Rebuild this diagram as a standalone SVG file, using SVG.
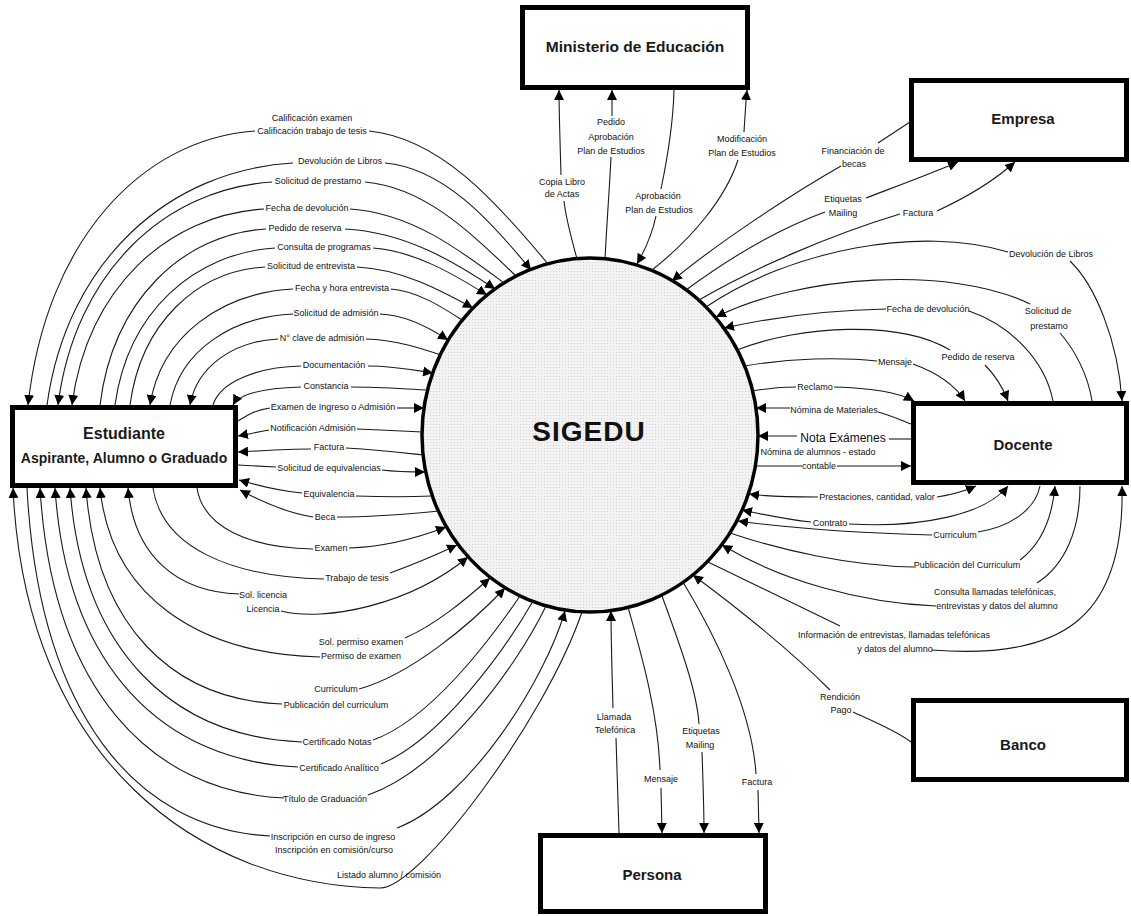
<svg xmlns="http://www.w3.org/2000/svg" width="1131" height="916" viewBox="0 0 1131 916">
<defs>
<marker id="ah" viewBox="0 0 10 10" refX="10" refY="5" markerWidth="10" markerHeight="10" markerUnits="userSpaceOnUse" orient="auto"><path d="M0,0 L10,5 L0,10 z" fill="#000"/></marker>
<pattern id="dots" width="3" height="3" patternUnits="userSpaceOnUse"><rect width="3" height="3" fill="#f3f3f3"/><rect x="1" y="1" width="1" height="1" fill="#d2d2d2"/></pattern>
<style>
.ln{fill:none;stroke:#1a1a1a;stroke-width:1.1}
.ar{marker-end:url(#ah)}
.t{font-family:"Liberation Sans",Arial,sans-serif;font-size:9px;fill:#111;text-anchor:middle}
.tb{font-family:"Liberation Sans",Arial,sans-serif;font-size:12px;fill:#111;text-anchor:middle}
.box{fill:#fff;stroke:#000;stroke-width:5}
.nt{font-family:"Liberation Sans",Arial,sans-serif;font-weight:bold;font-size:15px;fill:#1a1a1a;text-anchor:middle}
.nt.big{font-size:16px}
.nt.sub{font-size:14px}
.nt.min{font-size:15.5px}
</style>
</defs>
<rect width="1131" height="916" fill="#fff"/>

<!-- central process -->
<g id="sigedu">
<ellipse cx="590" cy="435" rx="168" ry="177" fill="url(#dots)" stroke="#000" stroke-width="3.5"/>
<text x="589" y="441" font-family="Liberation Sans,Arial,sans-serif" font-weight="bold" font-size="28" letter-spacing="1" text-anchor="middle" fill="#111">SIGEDU</text>
</g>

<g id="connectors">
<!-- Estudiante: upper arcs -->
<path class="ln ar" d="M255,131 C141,139 46,241 28,405"/>
<path class="ln" d="M369,131 C439,138 495,200 548,264"/>
<path class="ln" d="M293,163 C170,170 67,260 47,405"/>
<path class="ln ar" d="M385,163 C443,168 490,220 531,270"/>
<path class="ln ar" d="M272,182 C165,189 75,272 58,405"/>
<path class="ln" d="M365,182 C425,187 472,234 516,276"/>
<path class="ln ar" d="M264,209 C168,215 87,288 72,405"/>
<path class="ln" d="M350,209 C411,213 460,250 504,283"/>
<path class="ln" d="M266,229 C183,234 113,300 100,405"/>
<path class="ln ar" d="M345,229 C405,232 455,262 495,289"/>
<path class="ln" d="M275,248 C195,253 128,311 115,405"/>
<path class="ln ar" d="M373,248 C415,251 455,275 487,295"/>
<path class="ln" d="M265,267 C197,271 141,323 130,405"/>
<path class="ln ar" d="M357,267 C401,269 440,290 473,308"/>
<path class="ln ar" d="M293,289 C221,293 161,336 150,405"/>
<path class="ln" d="M391,289 C417,291 442,307 462,320"/>
<path class="ln" d="M293,314 C231,317 180,351 170,405"/>
<path class="ln ar" d="M380,314 C407,315 430,328 448,340"/>
<path class="ln ar" d="M278,339 C234,341 197,366 190,405"/>
<path class="ln" d="M366,339 C396,340 420,348 441,355"/>
<path class="ln" d="M301,366 C257,367 220,382 213,405"/>
<path class="ln ar" d="M368,366 C394,366 414,370 433,373"/>
<path class="ln ar" d="M301,387 C268,388 240,392 233,405"/>
<path class="ln" d="M351,387 C380,387 405,389 428,390"/>
<!-- Estudiante: side flows -->
<path class="ln" d="M270,408 C255,410 246,416 238,421"/>
<path class="ln ar" d="M397,408 L424,408"/>
<path class="ln ar" d="M269,430 C258,432 248,434 238,436"/>
<path class="ln" d="M357,429 C385,430 405,431 422,432"/>
<path class="ln ar" d="M311,449 C285,449 260,451 238,452"/>
<path class="ln" d="M346,448 C380,450 405,453 423,455"/>
<path class="ln" d="M238,465 L276,467"/>
<path class="ln ar" d="M382,470 C398,472 410,472 425,472"/>
<path class="ln ar" d="M302,493 C278,491 256,485 239,480"/>
<path class="ln" d="M356,496 C385,497 410,497 432,496"/>
<path class="ln ar" d="M313,517 C288,513 262,502 240,490"/>
<path class="ln" d="M337,517 C370,517 408,514 439,511"/>
<!-- Estudiante: lower arcs -->
<path class="ln" d="M313,549 C249,548 203,527 197,488"/>
<path class="ln ar" d="M349,548 C385,547 420,537 446,527"/>
<path class="ln" d="M324,579 C230,577 162,547 153,488"/>
<path class="ln ar" d="M390,573 C412,565 436,555 457,545"/>
<path class="ln ar" d="M239,594 C178,592 134,557 128,488"/>
<path class="ln ar" d="M281,611 C325,622 410,605 468,557"/>
<path class="ln ar" d="M320,657 C199,654 111,597 100,488"/>
<path class="ln ar" d="M405,638 C435,625 465,600 490,578"/>
<path class="ln ar" d="M282,704 C174,700 96,628 86,488"/>
<path class="ln ar" d="M359,689 C410,675 470,625 505,588"/>
<path class="ln ar" d="M302,742 C174,737 82,653 70,488"/>
<path class="ln" d="M373,740 C430,720 490,640 520,596"/>
<path class="ln ar" d="M298,767 C164,761 67,669 55,488"/>
<path class="ln" d="M381,764 C440,740 505,650 533,601"/>
<path class="ln ar" d="M284,798 C150,792 52,689 40,488"/>
<path class="ln" d="M368,795 C440,770 515,670 546,606"/>
<path class="ln" d="M270,836 C136,829 39,714 27,488"/>
<path class="ln ar" d="M397,828 C470,800 545,680 565,611"/>
<path class="ln ar" d="M582,612 C545,720 420,888 380,888 C200,886 25,760 13,488"/>

<!-- Ministerio de Educación -->
<path class="ln" d="M577,259 C572,240 566,220 564,201"/>
<path class="ln ar" d="M561,175 C560,140 559,110 559,90"/>
<path class="ln" d="M605,259 C607,220 610,180 611,157"/>
<path class="ln ar" d="M612,116 L612,90"/>
<path class="ln" d="M674,90 C673,130 666,165 661,189"/>
<path class="ln ar" d="M656,216 C652,235 645,250 637,264"/>
<path class="ln" d="M652,270 C690,240 725,200 738,160"/>
<path class="ln ar" d="M744,132 C745,115 746,100 747,90"/>

<!-- Empresa -->
<path class="ln" d="M910,122 L878,143"/>
<path class="ln ar" d="M841,166 C790,195 715,245 672,281"/>
<path class="ln ar" d="M866,198 C900,185 935,172 958,162"/>
<path class="ln" d="M825,212 C770,232 720,265 686,290"/>
<path class="ln ar" d="M937,211 C965,198 995,180 1015,162"/>
<path class="ln" d="M900,214 C830,235 750,270 699,300"/>

<!-- Docente -->
<path class="ln" d="M706,307 C790,250 920,225 1008,252"/>
<path class="ln ar" d="M1070,261 C1095,285 1118,340 1122,401"/>
<path class="ln ar" d="M1030,304 C950,265 800,275 716,317"/>
<path class="ln" d="M1060,333 C1075,350 1088,375 1092,401"/>
<path class="ln ar" d="M886,309 C830,310 770,318 724,328"/>
<path class="ln" d="M969,311 C1010,325 1045,360 1053,401"/>
<path class="ln" d="M737,350 C800,325 900,320 950,350"/>
<path class="ln ar" d="M985,365 C995,375 1003,388 1008,401"/>
<path class="ln" d="M745,366 C790,358 840,357 877,361"/>
<path class="ln ar" d="M913,364 C935,372 955,385 965,401"/>
<path class="ln" d="M752,391 C770,388 785,387 796,387"/>
<path class="ln ar" d="M834,387 C870,388 900,393 914,401"/>
<path class="ln ar" d="M790,408 L756,408"/>
<path class="ln" d="M878,412 C890,415 900,420 911,424"/>
<path class="ln ar" d="M797,436 L758,436"/>
<path class="ln" d="M889,439 L911,439"/>
<path class="ln" d="M757,466 L802,466"/>
<path class="ln ar" d="M837,466 L911,466"/>
<path class="ln ar" d="M818,497 C795,497 770,497 749,494"/>
<path class="ln ar" d="M937,497 C950,495 965,491 976,486"/>
<path class="ln ar" d="M811,522 C790,520 765,515 742,510"/>
<path class="ln ar" d="M849,524 C920,528 985,515 1008,486"/>
<path class="ln ar" d="M932,535 C860,533 790,528 738,521"/>
<path class="ln" d="M978,532 C1010,527 1035,510 1040,486"/>
<path class="ln" d="M914,567 C850,566 780,550 730,533"/>
<path class="ln ar" d="M1020,560 C1040,545 1052,520 1055,486"/>
<path class="ln ar" d="M936,606 C860,603 780,580 722,545"/>
<path class="ln" d="M1037,583 C1065,565 1080,530 1080,486"/>
<path class="ln" d="M840,626 C800,607 750,582 708,562"/>
<path class="ln ar" d="M932,650 C1060,660 1125,620 1122,486"/>

<!-- Banco -->
<path class="ln ar" d="M830,690 C790,650 740,610 693,575"/>
<path class="ln" d="M853,712 C870,720 895,730 911,742"/>

<!-- Persona -->
<path class="ln" d="M619,833 C618,800 617,770 616,738"/>
<path class="ln ar" d="M613,708 C612,670 611,640 611,611"/>
<path class="ln" d="M628,607 C640,650 658,710 660,770"/>
<path class="ln ar" d="M661,788 L662,833"/>
<path class="ln" d="M662,596 C678,640 697,690 699,724"/>
<path class="ln ar" d="M702,752 C703,780 704,810 704,833"/>
<path class="ln" d="M683,582 C715,635 752,710 756,774"/>
<path class="ln ar" d="M758,790 L759,833"/>
</g>

<g id="flow-labels">
<text class="t" x="312" y="121">Calificación examen</text>
<text class="t" x="312" y="134">Calificación  trabajo de tesis</text>
<text class="t" x="340" y="164">Devolución de Libros</text>
<text class="t" x="318" y="184">Solicitud de prestamo</text>
<text class="t" x="307" y="211">Fecha de devolución</text>
<text class="t" x="305" y="231">Pedido de reserva</text>
<text class="t" x="324" y="250">Consulta de programas</text>
<text class="t" x="311" y="269">Solicitud de entrevista</text>
<text class="t" x="342" y="291">Fecha y hora entrevista</text>
<text class="t" x="336" y="316">Solicitud de admisión</text>
<text class="t" x="322" y="341">N° clave de admisión</text>
<text class="t" x="334" y="368">Documentación</text>
<text class="t" x="326" y="389">Constancia</text>
<text class="t" x="333" y="410">Examen de Ingreso o Admisión</text>
<text class="t" x="313" y="431">Notificación Admisión</text>
<text class="t" x="329" y="450">Factura</text>
<text class="t" x="329" y="471">Solicitud de equivalencias</text>
<text class="t" x="329" y="497">Equivalencia</text>
<text class="t" x="325" y="520">Beca</text>
<text class="t" x="331" y="551">Examen</text>
<text class="t" x="357" y="581">Trabajo de tesis</text>
<text class="t" x="263" y="598">Sol. licencia</text>
<text class="t" x="263" y="612">Licencia</text>
<text class="t" x="361" y="645">Sol. permiso examen</text>
<text class="t" x="361" y="659">Permiso de examen</text>
<text class="t" x="336" y="692">Curriculum</text>
<text class="t" x="336" y="708">Publicación del curriculum</text>
<text class="t" x="337" y="745">Certificado Notas</text>
<text class="t" x="339" y="771">Certificado Analítico</text>
<text class="t" x="325" y="802">Título de Graduación</text>
<text class="t" x="333" y="840">Inscripción en curso de ingreso</text>
<text class="t" x="334" y="853">Inscripción en comisión/curso</text>
<text class="t" x="389" y="878">Listado alumno / comisión</text>

<text class="t" x="562" y="185">Copia Libro</text>
<text class="t" x="562" y="197">de Actas</text>
<text class="t" x="611" y="125">Pedido</text>
<text class="t" x="611" y="140">Aprobación</text>
<text class="t" x="611" y="154">Plan de Estudios</text>
<text class="t" x="658" y="199">Aprobación</text>
<text class="t" x="659" y="213">Plan de Estudios</text>
<text class="t" x="742" y="142">Modificación</text>
<text class="t" x="742" y="156">Plan de Estudios</text>

<text class="t" x="853" y="154">Financiación de</text>
<text class="t" x="854" y="167">becas</text>
<text class="t" x="843" y="202">Etiquetas</text>
<text class="t" x="843" y="216">Mailing</text>
<text class="t" x="918" y="216">Factura</text>
<text class="t" x="1051" y="257">Devolución de Libros</text>
<text class="t" x="1048" y="314">Solicitud de</text>
<text class="t" x="1049" y="329">prestamo</text>
<text class="t" x="928" y="312">Fecha de devolución</text>
<text class="t" x="978" y="360">Pedido de reserva</text>
<text class="t" x="895" y="365">Mensaje</text>
<text class="t" x="815" y="390">Reclamo</text>
<text class="t" x="834" y="413">Nómina de Materiales</text>
<text class="tb" x="843" y="442">Nota Exámenes</text>
<text class="t" x="818" y="455">Nómina de alumnos - estado</text>
<text class="t" x="819" y="469">contable</text>
<text class="t" x="877" y="500">Prestaciones, cantidad, valor</text>
<text class="t" x="830" y="526">Contrato</text>
<text class="t" x="955" y="538">Curriculum</text>
<text class="t" x="967" y="568">Publicación del Curriculum</text>
<text class="t" x="995" y="595">Consulta llamadas telefónicas,</text>
<text class="t" x="997" y="609">entrevistas y datos del alumno</text>
<text class="t" x="894" y="638">Información de entrevistas, llamadas telefónicas</text>
<text class="t" x="895" y="652">y datos del alumno</text>
<text class="t" x="840" y="700">Rendición</text>
<text class="t" x="841" y="713">Pago</text>

<text class="t" x="614" y="720">Llamada</text>
<text class="t" x="615" y="733">Telefónica</text>
<text class="t" x="661" y="782">Mensaje</text>
<text class="t" x="701" y="734">Etiquetas</text>
<text class="t" x="700" y="748">Mailing</text>
<text class="t" x="757" y="785">Factura</text>
</g>

<g id="ministerio">
<rect class="box" x="522.5" y="7.5" width="225" height="80"/>
<text class="nt min" x="635" y="52">Ministerio de Educación</text>
</g>
<g id="empresa">
<rect class="box" x="911.5" y="80.5" width="215" height="79"/>
<text class="nt" x="1023" y="124">Empresa</text>
</g>
<g id="docente">
<rect class="box" x="913.5" y="403.5" width="213" height="79"/>
<text class="nt" x="1023" y="450">Docente</text>
</g>
<g id="banco">
<rect class="box" x="913.5" y="700.5" width="213" height="79"/>
<text class="nt" x="1023" y="750">Banco</text>
</g>
<g id="persona">
<rect class="box" x="540.5" y="835.5" width="225" height="76"/>
<text class="nt" x="652" y="880">Persona</text>
</g>
<g id="estudiante">
<rect class="box" x="12.5" y="407.5" width="223" height="78"/>
<text class="nt big" x="124" y="439">Estudiante</text>
<text class="nt sub" x="124" y="463">Aspirante, Alumno o Graduado</text>
</g>
</svg>
